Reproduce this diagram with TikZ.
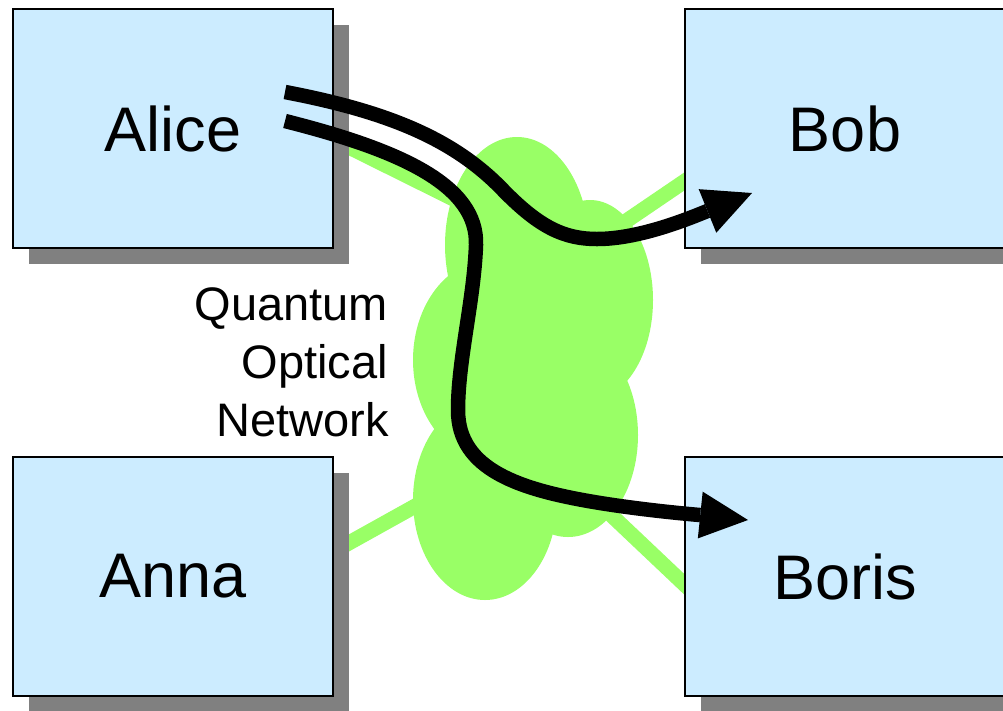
\documentclass[tikz,border=0pt]{standalone}
\usepackage{fontspec}
\setmainfont{Liberation Sans}
\usetikzlibrary{arrows.meta,shadows}
\definecolor{boxblue}{HTML}{CCECFF}
\definecolor{netgreen}{HTML}{99FF66}
\definecolor{shadowgray}{HTML}{808080}
\pgfdeclarelayer{back}
\pgfsetlayers{back,main}
\begin{document}
\begin{tikzpicture}[x=1pt,y=-1pt,
  party/.style={draw=black, line width=1.5pt, fill=boxblue,
    minimum width=320pt, minimum height=239pt, inner sep=0pt,
    font=\fontsize{63}{70}\selectfont,
    drop shadow={shadow xshift=16pt, shadow yshift=-16pt,
      fill=shadowgray, opacity=1}},
  fibre/.style={draw=netgreen, line width=15pt},
  lobe/.style={fill=netgreen},
  flow/.style={draw=black, line width=14.5pt,
    -{Triangle[length=48pt,width=47pt,line width=0pt]}},
  netlabel/.style={anchor=base east, inner sep=0pt,
    font=\fontsize{47}{55}\selectfont}]

\useasboundingbox (0,0) rectangle (1003,710);

% ports behind the boxes and hubs inside the network cloud
\coordinate (aliceport) at (250,98);
\coordinate (bobport)   at (760,130);
\coordinate (annaport)  at (250,598);
\coordinate (borisport) at (760,656);
\coordinate (hubA) at (520,232);
\coordinate (hubB) at (560,266);
\coordinate (hubC) at (480,470);
\coordinate (hubD) at (590,495);

% fibre links, drawn underneath everything else
\begin{pgfonlayer}{back}
  \draw[fibre] (aliceport) -- (hubA);
  \draw[fibre] (bobport)   -- (hubB);
  \draw[fibre] (annaport)  -- (hubC);
  \draw[fibre] (borisport) -- (hubD);
\end{pgfonlayer}

% the optical network cloud, built from overlapping lobes
\fill[lobe] (517,245) ellipse [x radius=72pt, y radius=108pt];
\fill[lobe] (590,300) ellipse [x radius=63pt, y radius=100pt];
\fill[lobe] (568,435) ellipse [x radius=70pt, y radius=102pt];
\fill[lobe] (485,500) ellipse [x radius=72pt, y radius=100pt];
\fill[lobe] (490,360) ellipse [x radius=77pt, y radius=100pt];

% the four parties
\node[party] (alice) at (173,128.5) {Alice};
\node[party] (bob)   at (845,128.5) {Bob};
\node[party] (anna)  at (173,576.5) {Anna};
\node[party] (boris) at (845,576.5) {Boris};

% network caption
\node[netlabel] (cap1) at (388,320) {Quantum};
\node[netlabel] (cap2) at (388,378) {Optical};
\node[netlabel] (cap3) at (389,436) {Network};

% photon paths from Alice
\coordinate (alicehi) at (285,92);
\coordinate (alicelo) at (285,121);
\coordinate (bobin)   at (752,193);
\coordinate (borisin) at (748,520);

\draw[flow] (alicehi) .. controls (390,112) and (455,140) .. (503,190)
  .. controls (540,228) and (565,239) .. (597,239)
  .. controls (640,239) and (690,218) .. (bobin);

\draw[flow] (alicelo) .. controls (400,150) and (478,185) .. (476,245)
  .. controls (474,300) and (458,360) .. (458,410)
  .. controls (458,470) and (520,490) .. (600,503)
  .. controls (650,511) and (700,515) .. (borisin);
\end{tikzpicture}
\end{document}
